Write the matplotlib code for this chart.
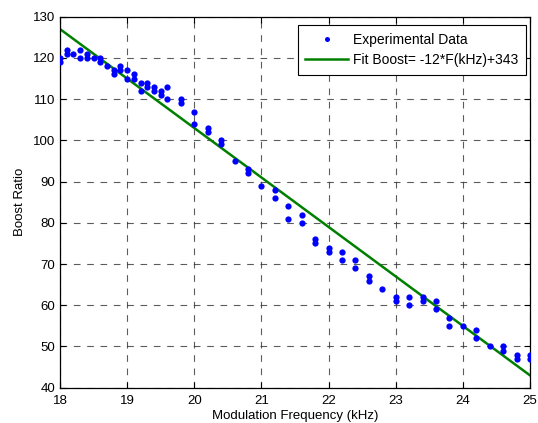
import numpy as np
import matplotlib.pyplot as plt

plt.rcParams['font.family'] = ['Liberation Sans', 'DejaVu Sans']

# Measured boost ratio at each modulation frequency (kHz)
freq = [18.0, 18.0, 18.1, 18.1, 18.2, 18.3, 18.3, 18.4, 18.4, 18.5,
        18.6, 18.6, 18.7, 18.8, 18.8, 18.9, 18.9, 19.0, 19.0, 19.1,
        19.1, 19.2, 19.2, 19.3, 19.3, 19.4, 19.4, 19.5, 19.5, 19.6,
        19.6, 19.8, 19.8, 20.0, 20.0, 20.2, 20.2, 20.4, 20.4, 20.6,
        20.8, 20.8, 21.0, 21.2, 21.2, 21.4, 21.4, 21.6, 21.6, 21.8,
        21.8, 22.0, 22.0, 22.2, 22.2, 22.4, 22.4, 22.6, 22.6, 22.8,
        23.0, 23.0, 23.2, 23.2, 23.4, 23.4, 23.6, 23.6, 23.8, 23.8,
        24.0, 24.2, 24.2, 24.4, 24.6, 24.6, 24.8, 24.8, 25.0, 25.0]
boost = [120, 119, 122, 121, 121, 122, 120, 121, 120, 120,
         120, 119, 118, 117, 116, 118, 117, 117, 115, 116,
         115, 114, 112, 114, 113, 113, 112, 112, 111, 113,
         110, 110, 109, 107, 104, 103, 102, 100, 99, 95,
         93, 92, 89, 88, 86, 84, 81, 82, 80, 76,
         75, 74, 73, 73, 71, 71, 69, 67, 66, 64,
         62, 61, 62, 60, 62, 61, 61, 59, 57, 55,
         55, 54, 52, 50, 50, 49, 48, 47, 48, 47]

# Linear fit coefficients
slope = -12
intercept = 343
fit_x = np.array([18, 25])
fit_y = slope * fit_x + intercept

fig = plt.figure(figsize=(5.38, 4.23), dpi=100)
ax = fig.add_axes([0.1115, 0.0835, 0.8735, 0.877])

ax.plot(freq, boost, 'o', color='#0000ff', markersize=4.5, markeredgewidth=0,
        label='Experimental Data', zorder=3)
ax.plot(fit_x, fit_y, '-', color='#008000', linewidth=1.8,
        label='Fit Boost= -12*F(kHz)+343', zorder=2)

ax.set_xlim(18, 25)
ax.set_ylim(40, 130)
ax.set_xticks(range(18, 26))
ax.set_yticks(range(40, 131, 10))
ax.grid(True, color='#333333', linestyle=(0, (6, 6)), linewidth=0.8, alpha=0.8)
ax.tick_params(direction='in', top=True, right=True, labelsize=9.5, length=4)
ax.tick_params(axis='x', pad=5)
for s in ax.spines.values():
    s.set_linewidth(0.9)

ax.set_xlabel('Modulation Frequency (kHz)', fontsize=9.5, labelpad=2.5)
ax.set_ylabel('Boost Ratio', fontsize=9.5, labelpad=5)

leg = ax.legend(loc='upper right', bbox_to_anchor=(526 / 538, 1 - 25 / 423),
                bbox_transform=fig.transFigure, borderaxespad=0,
                fontsize=10, fancybox=False, framealpha=1, edgecolor='black',
                handlelength=3.1, handletextpad=0.35, borderpad=0.55,
                labelspacing=0.45, markerscale=0.8)
leg.get_frame().set_linewidth(0.8)

fig.savefig('out.png', dpi=100)
